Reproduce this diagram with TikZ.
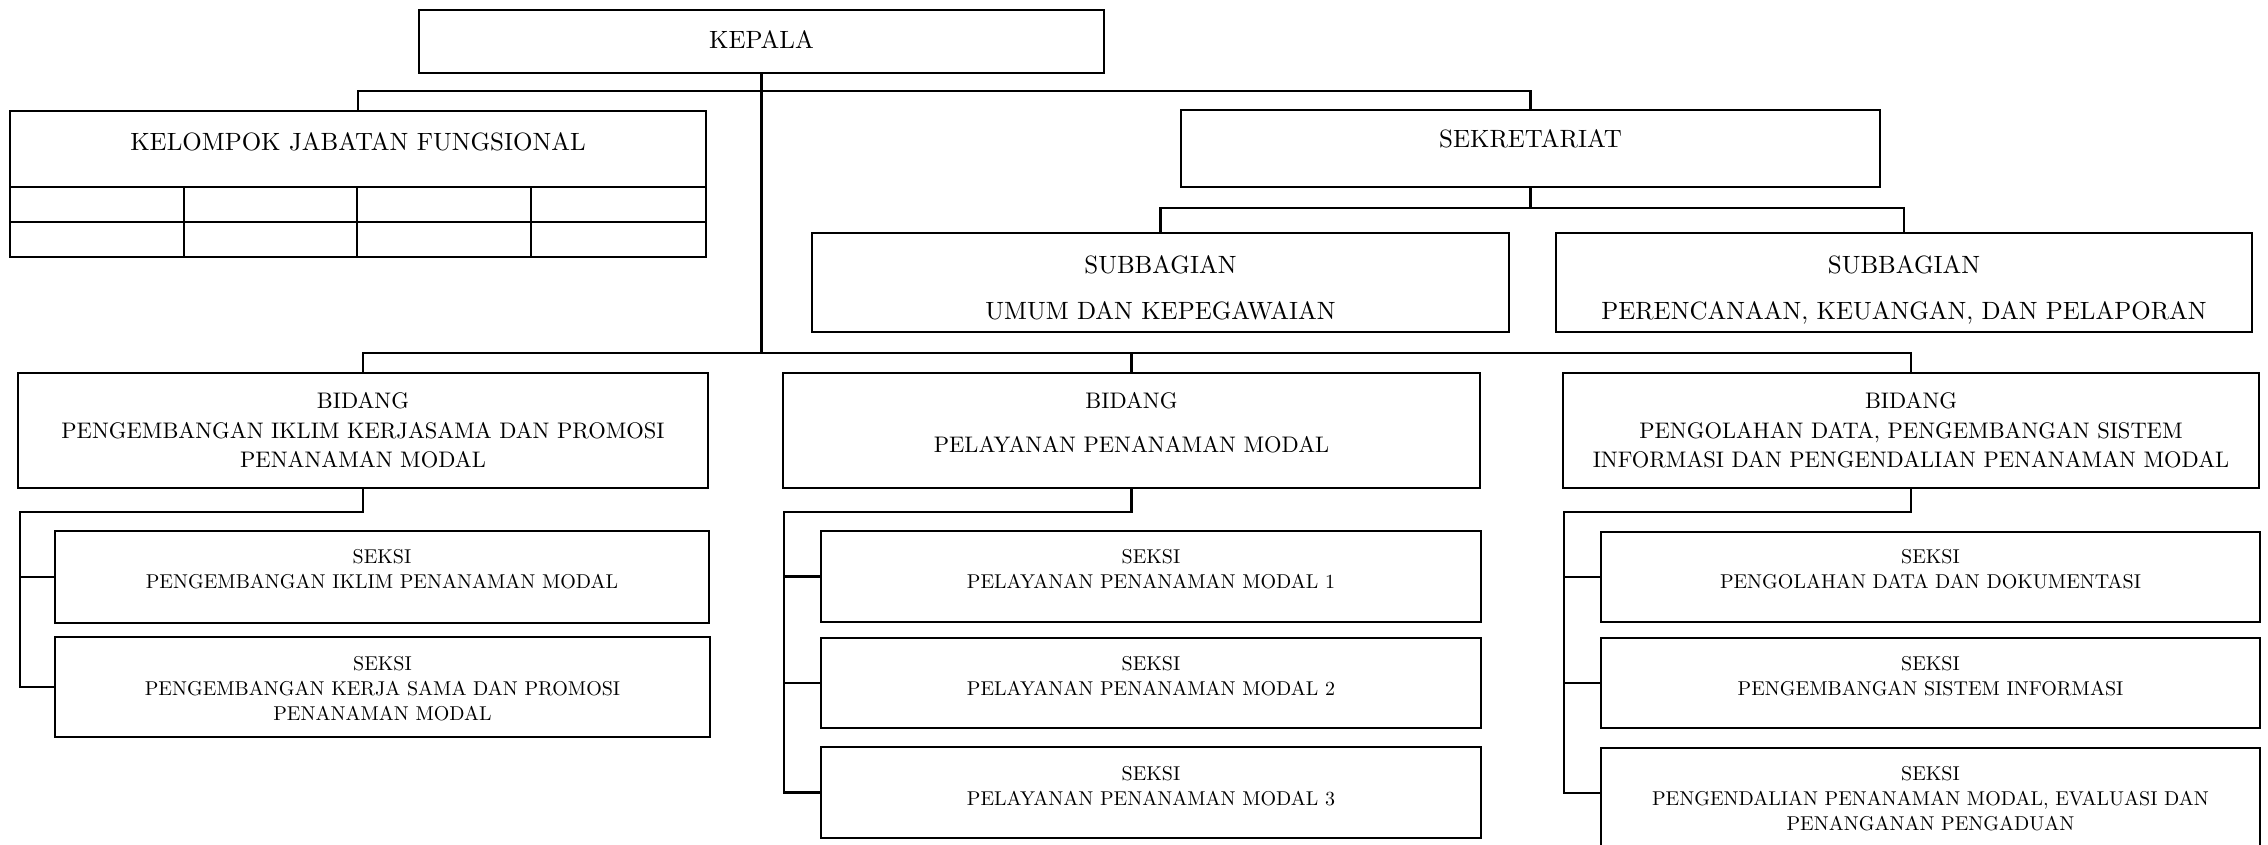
\documentclass[tikz,border=0pt]{standalone}
\usepackage{fontspec}
\setmainfont{lmroman10-regular}[Extension=.otf]
\begin{document}
\begin{tikzpicture}[x=1pt,y=-1pt,
  box/.style={draw, line width=2.8pt, rectangle, inner sep=0pt},
  conn/.style={line width=2.6pt},
  tA/.style={inner sep=0pt, font=\fontsize{25}{30}\selectfont},
  tSub/.style={inner sep=0pt, align=center, anchor=north, font=\fontsize{25}{46}\selectfont},
  tBid/.style={inner sep=0pt, align=center, anchor=north, font=\fontsize{22.5}{29.5}\selectfont},
  tBidB/.style={inner sep=0pt, align=center, anchor=north, font=\fontsize{22.5}{44}\selectfont},
  tSek/.style={inner sep=0pt, align=center, anchor=north, font=\fontsize{20}{25}\selectfont}]
\clip (0,0) rectangle (2268,844);
\fill[white] (0,0) rectangle (2268,844);

% ---------- boxes ----------
\node[box, minimum width=685pt, minimum height=63pt] (kepala) at (761.5,41.5) {};
\node[box, minimum width=696pt, minimum height=146pt] (kelompok) at (358,184) {};
\node[box, minimum width=699pt, minimum height=77pt] (sek) at (1530.5,148.5) {};
\node[box, minimum width=697pt, minimum height=99pt] (sub1) at (1160.5,282.5) {};
\node[box, minimum width=696pt, minimum height=99pt] (sub2) at (1904,282.5) {};
\node[box, minimum width=690pt, minimum height=115pt] (bid1) at (363,430.5) {};
\node[box, minimum width=697pt, minimum height=115pt] (bid2) at (1131.5,430.5) {};
\node[box, minimum width=696pt, minimum height=115pt] (bid3) at (1911,430.5) {};
\node[box, minimum width=654pt, minimum height=92pt] (s11) at (382,577) {};
\node[box, minimum width=655pt, minimum height=100pt] (s12) at (382.5,687) {};
\node[box, minimum width=660pt, minimum height=91pt] (s21) at (1151,576.5) {};
\node[box, minimum width=660pt, minimum height=90pt] (s22) at (1151,683) {};
\node[box, minimum width=660pt, minimum height=91pt] (s23) at (1151,792.5) {};
\node[box, minimum width=659pt, minimum height=90pt] (s31) at (1930.5,577) {};
\node[box, minimum width=659pt, minimum height=90pt] (s32) at (1930.5,683) {};
\node[box, minimum width=659pt, minimum height=122pt] (s33) at (1930.5,809) {};

% table lines inside KELOMPOK JABATAN FUNGSIONAL
\draw[conn] (10,187) -- (706,187);
\draw[conn] (10,222) -- (706,222);
\foreach \xx in {184,357,531} \draw[conn] (\xx,187) -- (\xx,257);

% ---------- texts ----------
\node[tA, anchor=base] (tkepala) at (761.5,48) {KEPALA};
\node[tA, anchor=base] (tkelompok) at (358,150) {KELOMPOK JABATAN FUNGSIONAL};
\node[tA, anchor=base] (tsek) at (1530.5,147) {SEKRETARIAT};
\node[tSub] (tsub1) at (1160.5,254.9) {SUBBAGIAN\\UMUM DAN KEPEGAWAIAN};
\node[tSub] (tsub2) at (1904,254.9) {SUBBAGIAN\\PERENCANAAN, KEUANGAN, DAN PELAPORAN};
\node[tBid] (tbid1) at (363,392.6) {BIDANG\\PENGEMBANGAN IKLIM KERJASAMA DAN PROMOSI\\PENANAMAN MODAL};
\node[tBidB] (tbid2) at (1131.5,392.6) {BIDANG\\PELAYANAN PENANAMAN MODAL};
\node[tBid] (tbid3) at (1911,392.6) {BIDANG\\PENGOLAHAN DATA, PENGEMBANGAN SISTEM\\INFORMASI DAN PENGENDALIAN PENANAMAN MODAL};
\node[tSek] (ts11) at (382,549.3) {SEKSI\\PENGEMBANGAN IKLIM PENANAMAN MODAL};
\node[tSek] (ts12) at (382.5,656.3) {SEKSI\\PENGEMBANGAN KERJA SAMA DAN PROMOSI\\PENANAMAN MODAL};
\node[tSek] (ts21) at (1151,549.3) {SEKSI\\PELAYANAN PENANAMAN MODAL 1};
\node[tSek] (ts22) at (1151,656.3) {SEKSI\\PELAYANAN PENANAMAN MODAL 2};
\node[tSek] (ts23) at (1151,766.3) {SEKSI\\PELAYANAN PENANAMAN MODAL 3};
\node[tSek] (ts31) at (1930.5,549.3) {SEKSI\\PENGOLAHAN DATA DAN DOKUMENTASI};
\node[tSek] (ts32) at (1930.5,656.3) {SEKSI\\PENGEMBANGAN SISTEM INFORMASI};
\node[tSek] (ts33) at (1930.5,766.3) {SEKSI\\PENGENDALIAN PENANAMAN MODAL, EVALUASI DAN\\PENANGANAN PENGADUAN};

% ---------- bus coordinates ----------
\coordinate (busA) at (0,91);
\coordinate (busB) at (0,208);
\coordinate (busC) at (0,353);
\coordinate (sbus) at (0,512);
\coordinate (sp1) at (20,0);
\coordinate (sp2) at (784,0);
\coordinate (sp3) at (1564,0);
\coordinate (c33) at (0,793);

% ---------- connectors ----------
\draw[conn] (kelompok.north) -- (kelompok.north |- busA) -- (sek.north |- busA) -- (sek.north);
\draw[conn] (kepala.south) -- (kepala.south |- busC);
\draw[conn] (sek.south) -- (sek.south |- busB);
\draw[conn] (sub1.north) -- (sub1.north |- busB) -- (sub2.north |- busB) -- (sub2.north);
\draw[conn] (bid1.north) -- (bid1.north |- busC) -- (bid3.north |- busC) -- (bid3.north);
\draw[conn] (bid2.north) -- (bid2.north |- busC);

\draw[conn] (bid1.south) -- (bid1.south |- sbus) -- (sp1 |- sbus) -- (sp1 |- s12.west) -- (s12.west);
\draw[conn] (sp1 |- s11.west) -- (s11.west);

\draw[conn] (bid2.south) -- (bid2.south |- sbus) -- (sp2 |- sbus) -- (sp2 |- s23.west) -- (s23.west);
\draw[conn] (sp2 |- s21.west) -- (s21.west);
\draw[conn] (sp2 |- s22.west) -- (s22.west);

\draw[conn] (bid3.south) -- (bid3.south |- sbus) -- (sp3 |- sbus) -- (sp3 |- c33) -- (s33.west |- c33);
\draw[conn] (sp3 |- s31.west) -- (s31.west);
\draw[conn] (sp3 |- s32.west) -- (s32.west);
\end{tikzpicture}
\end{document}
